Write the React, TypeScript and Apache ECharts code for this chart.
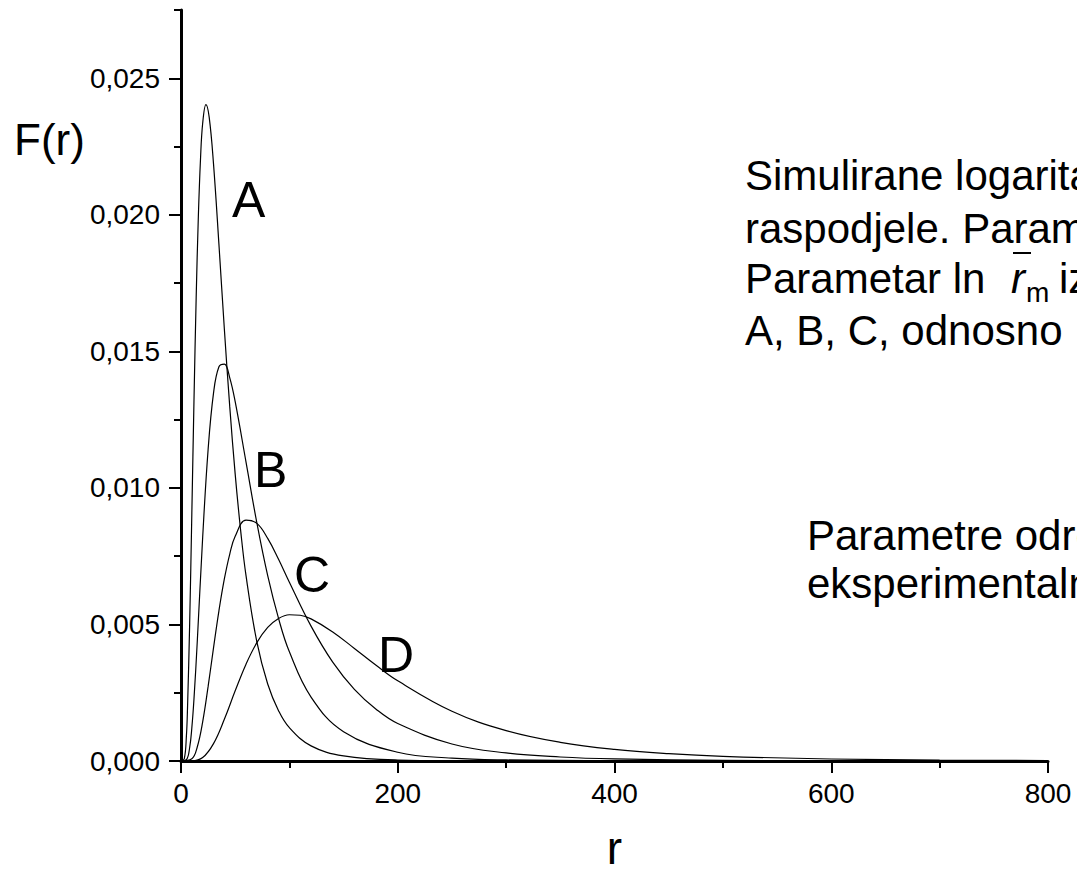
import React, { useEffect, useRef } from "react";
import * as echarts from "echarts";

// r values and F(r) values, one pair of arrays per curve
const rA = [0, 3, 5, 6, 8, 10, 12, 14, 16, 18, 20, 23, 26, 30, 35, 40, 45, 50, 55, 60, 70, 80, 90, 100, 120, 150, 200, 300, 800];
const fA = [0, 0.000074, 0.000929, 0.001926, 0.00504, 0.009076, 0.013245, 0.016965, 0.019929, 0.022046, 0.023352, 0.024038, 0.023577, 0.021865, 0.018917, 0.015819, 0.012966, 0.010505, 0.008456, 0.006785, 0.004362, 0.002821, 0.001843, 0.001219, 0.000554, 0.000186, 0.000037, 0.000002, 0];

const rB = [0, 5, 8, 10, 12, 15, 20, 25, 30, 35, 40, 45, 50, 60, 70, 80, 90, 100, 120, 150, 200, 250, 300, 400, 800];
const fB = [0, 0.000048, 0.000495, 0.001216, 0.002286, 0.004364, 0.00819, 0.011397, 0.013469, 0.014435, 0.014532, 0.014028, 0.013156, 0.010946, 0.008718, 0.006787, 0.005222, 0.003998, 0.002342, 0.001073, 0.00032, 0.000107, 0.000039, 0.000007, 0];

const rC = [0, 10, 15, 20, 25, 30, 35, 40, 45, 50, 60, 70, 80, 90, 100, 120, 140, 160, 180, 200, 250, 300, 350, 400, 500, 800];
const fC = [0, 0.000081, 0.000513, 0.001435, 0.002722, 0.004143, 0.0055, 0.006666, 0.007579, 0.008227, 0.008817, 0.0087, 0.008152, 0.007388, 0.006548, 0.00494, 0.003622, 0.002625, 0.001896, 0.001372, 0.000624, 0.000296, 0.000147, 0.000076, 0.000022, 0];

const rD = [0, 10, 20, 30, 40, 50, 60, 70, 80, 90, 100, 110, 120, 140, 160, 180, 200, 250, 300, 350, 400, 450, 500, 600, 700, 800];
const fD = [0, 0.000003, 0.000126, 0.000637, 0.001527, 0.002569, 0.003547, 0.004335, 0.00489, 0.005219, 0.005355, 0.005337, 0.005204, 0.004727, 0.004123, 0.003508, 0.002938, 0.001823, 0.001114, 0.000684, 0.000424, 0.000268, 0.000171, 0.000074, 0.000034, 0.000016];

const curveNames = ["A", "B", "C", "D"];
const xTicks = [0, 200, 400, 600, 800];
const yMajor = [0, 0.005, 0.01, 0.015, 0.02, 0.025];

const FONT = '"Liberation Sans", Arial, sans-serif';

function zip(r: number[], f: number[]) {
  return r.map((v, i) => [v, f[i]]);
}

export default function App() {
  const ref = useRef<HTMLDivElement>(null);
  useEffect(() => {
    document.body.style.margin = "0";
    if (!ref.current) return;
    const chart = echarts.init(ref.current, undefined, { renderer: "svg" });
    const top = 10;
    const bottom = 116;
    const h = 877 - top - bottom;
    const top2 = top + h * (0.0025 / 0.0275);
    const black = "#000";
    const text = (t: string, x: number, y: number, size: number, extra: any = {}) => ({
      type: "text",
      x,
      y,
      style: {
        text: t,
        fill: black,
        fontSize: size,
        fontFamily: FONT,
        align: "left",
        verticalAlign: "middle",
        ...extra,
      },
    });
    const series = [
      zip(rA, fA),
      zip(rB, fB),
      zip(rC, fC),
      zip(rD, fD),
    ].map((d, i) => ({
      name: curveNames[i],
      type: "line",
      xAxisIndex: 0,
      yAxisIndex: 0,
      data: d,
      showSymbol: false,
      smooth: 0.4,
      lineStyle: { color: black, width: 1.2 },
    }));
    chart.setOption({
      animation: false,
      backgroundColor: "#fff",
      grid: [
        { left: 181, right: 29, top, bottom },
        { left: 181, right: 29, top: top2, bottom },
      ],
      xAxis: [
        {
          gridIndex: 0,
          type: "value",
          min: xTicks[0],
          max: xTicks[xTicks.length - 1],
          interval: 200,
          axisLine: { onZero: false, lineStyle: { color: black, width: 3 } },
          axisTick: { length: 12, lineStyle: { color: black, width: 2 } },
          minorTick: { show: true, splitNumber: 2, length: 7, lineStyle: { color: black, width: 2 } },
          splitLine: { show: false },
          axisLabel: { color: black, fontSize: 28, fontFamily: FONT, margin: 18 },
          name: "r",
          nameLocation: "middle",
          nameGap: 64,
          nameTextStyle: { color: black, fontSize: 46, fontFamily: FONT },
        },
        { gridIndex: 1, type: "value", min: 0, max: 800, show: false },
      ],
      yAxis: [
        {
          gridIndex: 0,
          type: "value",
          min: 0,
          max: 0.0275,
          interval: 0.0025,
          axisLine: { onZero: false, lineStyle: { color: black, width: 3 } },
          axisTick: { length: 7, lineStyle: { color: black, width: 2 } },
          axisLabel: { show: false },
          splitLine: { show: false },
        },
        {
          gridIndex: 1,
          type: "value",
          min: yMajor[0],
          max: yMajor[yMajor.length - 1],
          interval: 0.005,
          axisLine: { show: false },
          axisTick: { length: 12, lineStyle: { color: black, width: 2 } },
          axisLabel: {
            color: black,
            fontSize: 28,
            fontFamily: FONT,
            margin: 21,
            formatter: (v: number) => v.toFixed(3).replace(".", ","),
          },
          splitLine: { show: false },
        },
      ],
      graphic: [
        text("F(r)", 14, 139, 44),
        text("A", 232, 200, 50),
        text("B", 254, 470, 50),
        text("C", 294, 575, 50),
        text("D", 378, 655, 50),
        text("Simulirane logaritamsko-normalne", 745, 175, 42),
        text("raspodjele. Parametar σ iznosi 0,6.", 745, 228, 42),
        text("Parametar ln", 745, 278, 42),
        text("r", 1011, 278, 42, { fontStyle: "italic" }),
        text("m", 1026, 292, 28),
        text("iznosi", 1059, 278, 42),
        {
          type: "line",
          shape: { x1: 1013, y1: 253, x2: 1031, y2: 253 },
          style: { stroke: black, lineWidth: 2 },
        },
        text("A, B, C, odnosno D.", 745, 330, 42),
        text("Parametre određujemo iz", 807, 535, 42),
        text("eksperimentalnih podataka.", 807, 583, 42),
      ],
      series,
    });
    return () => chart.dispose();
  }, []);
  return <div ref={ref} style={{ width: 1077, height: 877 }} />;
}
